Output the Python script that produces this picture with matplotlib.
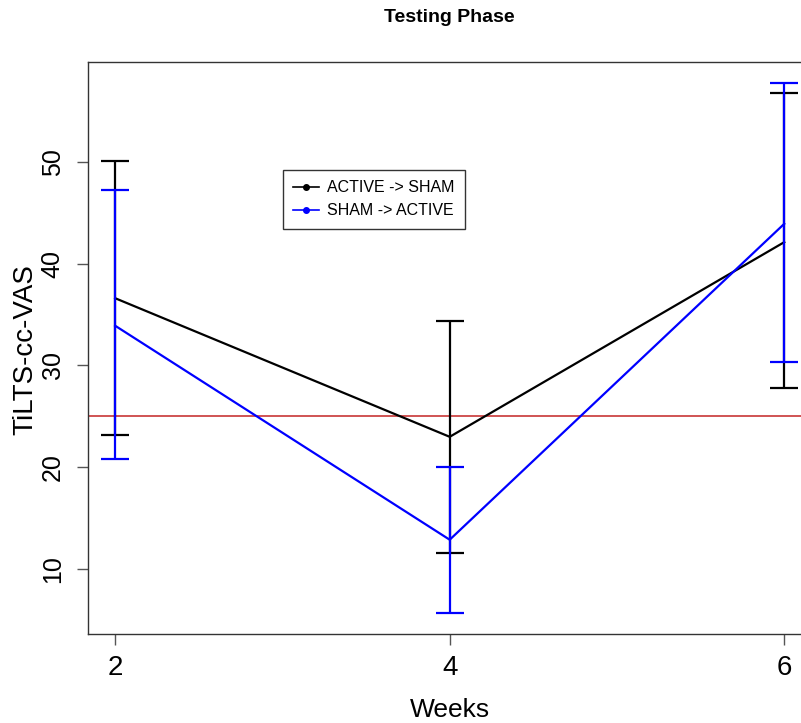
import matplotlib
matplotlib.use("Agg")
import matplotlib.pyplot as plt
from matplotlib.lines import Line2D

weeks = [2, 4, 6]
active_sham_mean = [36.6, 23.0, 42.1]
active_sham_upper = [50.1, 34.4, 56.7]
active_sham_lower = [23.2, 11.6, 27.8]
sham_active_mean = [33.9, 12.9, 43.9]
sham_active_upper = [47.2, 20.0, 57.7]
sham_active_lower = [20.8, 5.7, 30.3]
cutoff = 25
x_ticks = [2, 4, 6]
y_ticks = [10, 20, 30, 40, 50]
series_names = ["ACTIVE -> SHAM", "SHAM -> ACTIVE"]
colors = ["black", "blue"]

narrow = ["Liberation Sans Narrow", "Liberation Sans", "DejaVu Sans"]
normal = ["Liberation Sans", "DejaVu Sans"]
plt.rcParams["font.family"] = normal

fig = plt.figure(figsize=(8.01, 7.23), dpi=100)
ax = fig.add_axes([88.4/801, (723-634.3)/723, (811-88.4)/801, (634.3-62)/723])

groups = [
    (active_sham_mean, active_sham_upper, active_sham_lower, colors[0]),
    (sham_active_mean, sham_active_upper, sham_active_lower, colors[1]),
]
for z, (m, up, lo, c) in enumerate(groups):
    ax.plot(weeks, m, color=c, lw=1.6, zorder=3 + z)
    yerr = [[mi - li for mi, li in zip(m, lo)], [ui - mi for mi, ui in zip(m, up)]]
    ax.errorbar(weeks, m, yerr=yerr, fmt="none", ecolor=c, elinewidth=1.6,
                capsize=10, capthick=1.6, zorder=3 + z)

ax.axhline(cutoff, color="#CD4545", lw=1.3, zorder=2)

# R-style limits: 4% padding
xr = max(weeks) - min(weeks)
ax.set_xlim(min(weeks) - 0.04 * xr, max(weeks) + 0.04 * xr)
allv = active_sham_upper + active_sham_lower + sham_active_upper + sham_active_lower
yr = max(allv) - min(allv)
ax.set_ylim(min(allv) - 0.04 * yr, max(allv) + 0.04 * yr)

ax.set_xticks(x_ticks)
ax.set_xticklabels([str(t) for t in x_ticks], fontfamily=narrow, fontsize=20)
ax.set_yticks(y_ticks)
ax.set_yticklabels([str(t) for t in y_ticks], fontfamily=normal, fontsize=18,
                   rotation=90, va="center")
ax.tick_params(axis="both", direction="out", length=8, width=1, color="#555555")
ax.tick_params(axis="x", pad=7)
ax.tick_params(axis="y", pad=9)
for s in ax.spines.values():
    s.set_linewidth(1.0)
    s.set_color("#333333")

fig.text(449.7/801, 1 - 18/723, "Testing Phase", ha="center", va="center",
         fontfamily=narrow, fontweight="bold", fontsize=14)
fig.text(449.7/801, 1 - 710/723, "Weeks", ha="center", va="center",
         fontfamily=narrow, fontsize=19)
fig.text(25/801, 1 - 350/723, "TiLTS-cc-VAS", ha="center", va="center",
         rotation=90, fontfamily=normal, fontsize=20)

handles = [Line2D([0], [0], color=c, lw=1.2, marker="o", markersize=4)
           for c in colors]
leg = ax.legend(handles, series_names, loc="upper left",
                bbox_to_anchor=((283 - 88.4) / (811 - 88.4), (634.3 - 170) / (634.3 - 62)),
                prop={"family": normal, "size": 11.5}, frameon=True, fancybox=False,
                handlelength=1.6, handletextpad=0.5, borderpad=0.65, labelspacing=0.5,
                borderaxespad=0)
leg.get_frame().set_edgecolor("black")
leg.get_frame().set_linewidth(1.0)

fig.savefig("out.png", dpi=100)
